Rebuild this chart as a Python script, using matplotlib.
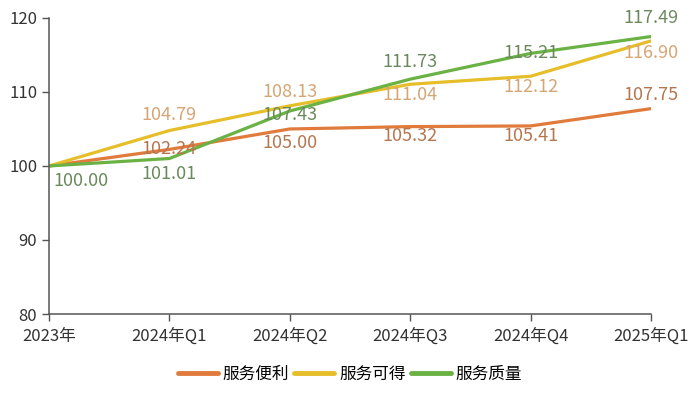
import matplotlib
matplotlib.use("Agg")
import matplotlib.pyplot as plt

plt.rcParams['font.family'] = ['Noto Sans CJK SC', 'DejaVu Sans']

# 数据
periods = ["2023年", "2024年Q1", "2024年Q2", "2024年Q3", "2024年Q4", "2025年Q1"]
bianli = [100.00, 102.24, 105.00, 105.32, 105.41, 107.75]
kede = [100.00, 104.79, 108.13, 111.04, 112.12, 116.90]
zhiliang = [100.00, 101.01, 107.43, 111.73, 115.21, 117.49]
names = ["服务便利", "服务可得", "服务质量"]

line_colors = ["#E07B3C", "#E6BE2A", "#6AB244"]
label_colors = ["#B5764E", "#D6A574", "#6A8A5C"]

# 标签偏移 (点)
offsets = [
    [None, (0, 0), (0, -10), (0, -7), (0, -7), (0, 10)],
    [None, (0, 11), (0, 10), (0, -8), (0, -8), (0, -9)],
    [(23, -11), (0, -11), (0, -3), (0, 12), (0, 0), (0, 13)],
]

fig = plt.figure(figsize=(7, 3.99), dpi=100)
ax = fig.add_axes([0.07, 0.213, 0.86, 0.742])

x = list(range(len(periods)))
series = [bianli, kede, zhiliang]
for i, s in enumerate(series):
    ax.plot(x, s, color=line_colors[i], lw=2.3, label=names[i], solid_capstyle='round')

for i, s in enumerate(series):
    for j, v in enumerate(s):
        off = offsets[i][j]
        if off is None:
            continue
        ax.annotate(f"{v:.2f}", (j, v), xytext=off, textcoords='offset points',
                    ha='center', va='center', fontsize=13, color=label_colors[i])

ax.set_xlim(0, 5)
ax.set_ylim(80, 120)
ax.set_yticks([80, 90, 100, 110, 120])
ax.set_xticks(x)
ax.set_xticklabels(periods)
ax.spines['top'].set_visible(False)
ax.spines['right'].set_visible(False)
for sp in ['left', 'bottom']:
    ax.spines[sp].set_color('#555555')
    ax.spines[sp].set_linewidth(1.1)
ax.tick_params(axis='both', colors='#555555', labelcolor='#333333', labelsize=12,
               length=5, width=1.0)
ax.tick_params(axis='x', pad=5)

leg = ax.legend(loc='upper center', bbox_to_anchor=(0.5, -0.125), ncol=3, frameon=False,
                fontsize=12, handlelength=2.4, handletextpad=0.3, columnspacing=0.3)
for h in leg.get_lines():
    h.set_linewidth(3.5)

fig.savefig("out.png", dpi=100)
